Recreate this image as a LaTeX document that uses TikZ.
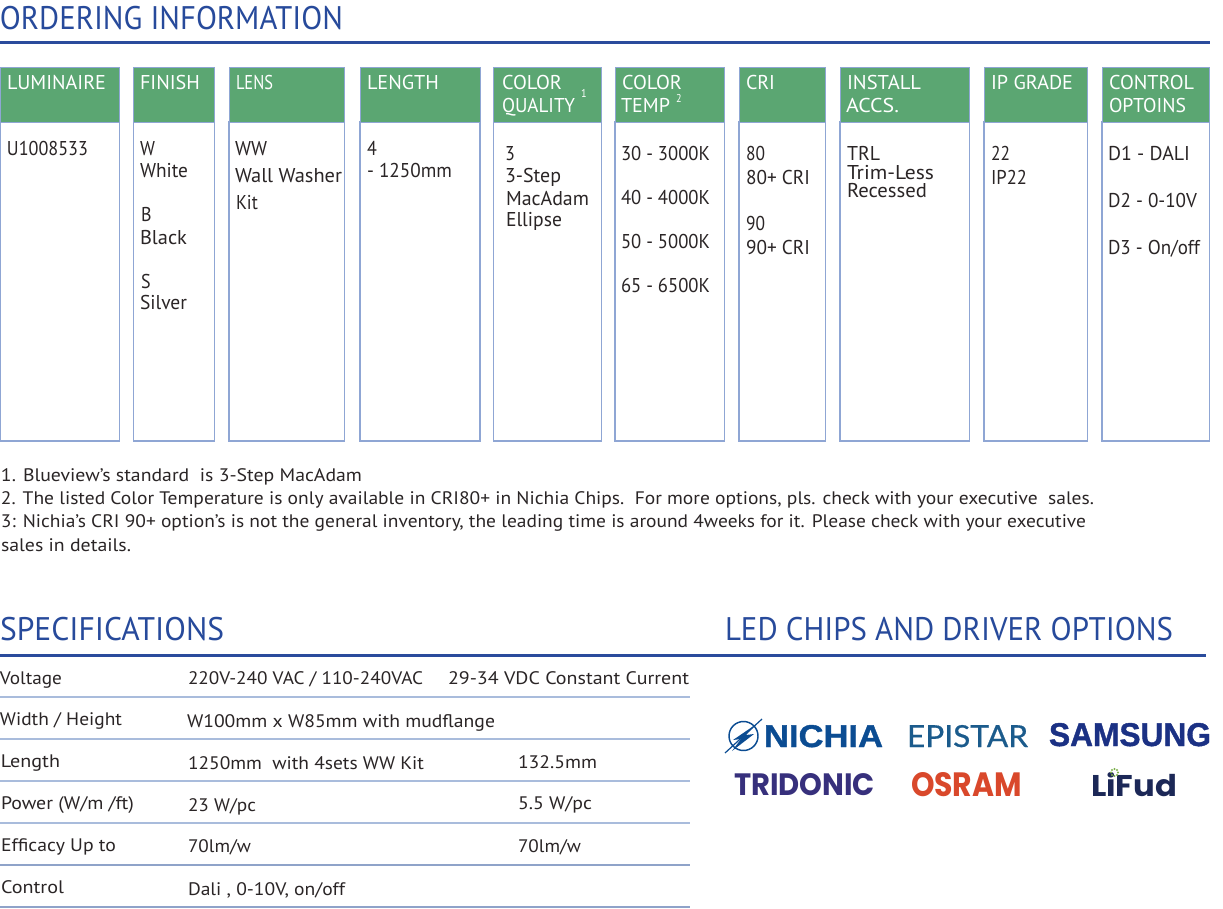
\documentclass[tikz,border=0pt]{standalone}
\usepackage{fontspec}
\usepackage{graphicx}
\setmainfont[FakeStretch=0.90]{PT Sans}
\newfontfamily\headf[FakeStretch=0.92]{PT Sans}
\newfontfamily\logob[FakeBold=1.2]{Liberation Sans}
\newfontfamily\logoc[FakeBold=0.6]{Lato}
\newfontfamily\logop{Poppins}
\definecolor{headblue}{HTML}{274A9B}
\definecolor{rulecol}{HTML}{2A4B9C}
\definecolor{greenhd}{HTML}{5BA672}
\definecolor{boxline}{HTML}{8FA6D4}
\definecolor{ink}{HTML}{2A2526}
\definecolor{rowa}{HTML}{A9BCDC}
\definecolor{rowb}{HTML}{8FA3C9}
\definecolor{nichia}{HTML}{0B4C92}
\definecolor{epistar}{HTML}{1B5B8C}
\definecolor{samsung}{HTML}{1B3184}
\definecolor{tridonic}{HTML}{37307C}
\definecolor{osram}{HTML}{D9482B}
\definecolor{lifud}{HTML}{1C2857}
\definecolor{lifudstar}{HTML}{7DB04B}
\tikzset{
  basetx/.style={anchor=base west,inner sep=0pt,outer sep=0pt,text=ink},
  tx/.style={basetx,yshift=-0.75pt,font=\fontsize{15}{18}\selectfont},
  hd/.style={tx,text=white},
  nt/.style={basetx,font=\fontsize{13.6}{16}\selectfont},
  sup/.style={basetx,text=white,font=\fontsize{8.5}{10}\selectfont},
  title/.style={basetx,text=headblue,font=\headf\fontsize{24.5}{28}\selectfont},
  logo/.style={basetx,text=#1},
  colbox/.style={draw=boxline,line width=0.9pt,fill=white},
  colhead/.style={fill=greenhd,draw=boxline,line width=0.5pt},
  rowline/.style={line width=0.9pt}
}
\newcommand{\colm}[2]{%
  \draw[colbox] (#1,122) rectangle (#2,441);
  \draw[colhead] (#1,67) rectangle (#2,122);}
\newcommand{\fit}[2]{\resizebox{#1\dimexpr0.75pt\relax}{\height}{#2}}
\newcommand{\fitb}[3]{\resizebox{#1\dimexpr0.75pt\relax}{#2\dimexpr0.75pt\relax}{#3}}
\begin{document}
\begin{tikzpicture}[x=0.75pt,y=-0.75pt]
\useasboundingbox[fill=white] (0,0) rectangle (1223,909);
% titles and rules
\node[title] (t1) at (0,30) {\fit{343}{ORDERING INFORMATION}};
\fill[rulecol] (0,41) rectangle (1210,44.5);
\node[title] (t2) at (0,640) {\fit{224}{SPECIFICATIONS}};
\node[title] (t3) at (725,640) {\fit{448}{LED CHIPS AND DRIVER OPTIONS}};
\fill[rulecol] (0,653.5) rectangle (1206,657);
% columns
\colm{0.5}{119.5}\colm{133.5}{214.5}\colm{229}{344.5}\colm{360}{480}\colm{493.5}{601.5}
\colm{615}{724.5}\colm{739}{825.5}\colm{840}{969.5}\colm{984}{1087.5}\colm{1102}{1209.5}
% headers
\node[hd] (h1) at (7,89) {\fit{99}{LUMINAIRE}};
\node[hd] (h2) at (140,89) {\fit{60}{FINISH}};
\node[hd] (h3) at (236,89) {\fit{37}{LENS}};
\node[hd] (h4) at (367,89) {\fit{72}{LENGTH}};
\node[hd] (h5a) at (502,89) {\fit{60}{COLOR}};
\node[hd] (h5b) at (502,112) {\fit{73}{QUALITY}};
\node[sup] (h5c) at (581,98) {1};
\node[hd] (h6a) at (622,89) {\fit{60}{COLOR}};
\node[hd] (h6b) at (621,112) {\fit{49}{TEMP}};
\node[sup] (h6c) at (676,103) {2};
\node[hd] (h7) at (746,89) {\fit{29}{CRI}};
\node[hd] (h8a) at (847,89) {\fit{74}{INSTALL}};
\node[hd] (h8b) at (846,112) {\fit{53}{ACCS.}};
\node[hd] (h9) at (991,89) {\fit{82}{IP GRADE}};
\node[hd] (h10a) at (1109,89) {\fit{85}{CONTROL}};
\node[hd] (h10b) at (1109,112) {\fit{77}{OPTOINS}};
% body
\node[tx] (b1) at (7,155) {\fit{81}{U1008533}};
\node[tx] (b2a) at (140,155) {W};
\node[tx] (b2b) at (140,177) {\fit{48}{White}};
\node[tx] (b2c) at (141,221) {B};
\node[tx] (b2d) at (140,243) {\fit{47}{Black}};
\node[tx] (b2e) at (141,287) {S};
\node[tx] (b2f) at (140,309) {\fit{47}{Silver}};
\node[tx] (b3a) at (235,155) {\fit{32}{WW}};
\node[tx] (b3b) at (235,182) {\fit{107}{Wall Washer}};
\node[tx] (b3c) at (236,209) {Kit};
\node[tx] (b4a) at (367,155) {4};
\node[tx] (b4b) at (367,177) {\fit{85}{- 1250mm}};
\node[tx] (b5a) at (505,160) {3};
\node[tx] (b5b) at (505,182) {\fit{56}{3-Step}};
\node[tx] (b5c) at (506,204) {\fit{83}{MacAdam}};
\node[tx] (b5d) at (506,226) {\fit{56}{Ellipse}};
\node[tx] (b6a) at (621,160) {\fit{89}{30 - 3000K}};
\node[tx] (b6b) at (621,204) {\fit{89}{40 - 4000K}};
\node[tx] (b6c) at (621,248) {\fit{89}{50 - 5000K}};
\node[tx] (b6d) at (621,291) {\fit{89}{65 - 6500K}};
\node[tx] (b7a) at (746,160) {\fit{19}{80}};
\node[tx] (b7b) at (746,184) {\fit{64}{80+ CRI}};
\node[tx] (b7c) at (746,230) {\fit{19}{90}};
\node[tx] (b7d) at (746,254) {\fit{64}{90+ CRI}};
\node[tx] (b8a) at (847,160) {\fit{33}{TRL}};
\node[tx] (b8b) at (847,179) {\fit{87}{Trim-Less}};
\node[tx] (b8c) at (847,197) {\fit{80}{Recessed}};
\node[tx] (b9a) at (991,160) {\fit{19}{22}};
\node[tx] (b9b) at (991,184) {\fit{36}{IP22}};
\node[tx] (b10a) at (1108,160) {\fit{82}{D1 - DALI}};
\node[tx] (b10b) at (1108,207) {\fit{89}{D2 - 0-10V}};
\node[tx] (b10c) at (1108,254) {\fit{92}{D3 - On/off}};
% notes
\node[nt] (n1) at (1,481) {\fit{361}{1. Blueview's standard\ \ is 3-Step MacAdam}};
\node[nt] (n2) at (1,504) {\fit{1093}{2. The listed Color Temperature is only available in CRI80+ in Nichia Chips.\ \ For more options, pls. check with your executive\ \ sales.}};
\node[nt] (n3) at (1,527) {\fit{1085}{3: Nichia's CRI 90+ option's is not the general inventory, the leading time is around 4weeks for it. Please check with your executive}};
\node[nt] (n4) at (1,551) {\fit{130}{sales in details.}};
% spec table
\draw[rowline,rowa] (0,697) -- (690,697);
\draw[rowline,rowa] (0,739) -- (690,739);
\draw[rowline,rowa] (0,781) -- (690,781);
\draw[rowline,rowa] (0,823) -- (690,823);
\draw[rowline,rowb] (0,865) -- (690,865);
\draw[rowline,rowb] (0,907) -- (690,907);
\node[nt] (s1) at (0,684) {\fit{62}{Voltage}};
\node[nt] (s1b) at (188,684) {\fit{235}{220V-240 VAC / 110-240VAC}};
\node[nt] (s1c) at (448,684) {\fit{241}{29-34 VDC Constant Current}};
\node[nt] (s2) at (0,725) {\fit{122}{Width / Height}};
\node[nt] (s2b) at (187,727) {\fit{308}{W100mm x W85mm with mudflange}};
\node[nt] (s3) at (1,767) {\fit{59}{Length}};
\node[nt] (s3b) at (188,769) {\fit{236}{1250mm\ \ with 4sets WW Kit}};
\node[nt] (s3c) at (518,768) {\fit{79}{132.5mm}};
\node[nt] (s4) at (1,809) {\fit{133}{Power (W/m /ft)}};
\node[nt] (s4b) at (188,811) {\fit{68}{23 W/pc}};
\node[nt] (s4c) at (518,809) {\fit{74}{5.5 W/pc}};
\node[nt] (s5) at (1,851) {\fit{115}{Efficacy Up to}};
\node[nt] (s5b) at (188,852) {\fit{63}{70lm/w}};
\node[nt] (s5c) at (518,852) {\fit{63}{70lm/w}};
\node[nt] (s6) at (1,893) {\fit{63}{Control}};
\node[nt] (s6b) at (188,895) {\fit{157}{Dali , 0-10V, on/off}};
% logos
\draw[nichia,line width=1.1pt] (743.5,736) circle (14.5);
\draw[nichia,line width=0.9pt] (725,753) -- (762,719);
\fill[nichia] (755,725) -- (733,740) -- (741,739) -- (732,751) -- (754,734) -- (746,735) -- cycle;
\node[logo=nichia,font=\logob\bfseries\fontsize{22.5}{24}\selectfont] (l1) at (764,747) {\fitb{119}{22}{NICHIA}};
\node[logo=epistar,font=\logoc\fontsize{22.5}{24}\selectfont] (l2) at (907,747) {\fitb{121}{22}{EPISTAR}};
\node[logo=samsung,font=\logob\bfseries\fontsize{22.5}{24}\selectfont] (l3) at (1049,746) {\fitb{162}{23}{SAMSUNG}};
\node[logo=tridonic,font=\logop\fontsize{22.5}{24}\selectfont\bfseries] (l4) at (734,795) {\fitb{141}{22}{TRIDONIC}};
\node[logo=osram,font=\logop\bfseries\fontsize{22.5}{24}\selectfont] (l5) at (911,796) {\fitb{111}{24}{OSRAM}};
\node[logo=lifud,font=\logop\bfseries\fontsize{24}{26}\selectfont] (l6) at (1091,796) {\fitb{86}{24}{LiFud}};
\foreach \a in {0,45,...,315}{\fill[lifudstar] (1114.5,772.5) ++(\a:3.5) circle (1.1);}
\end{tikzpicture}
\end{document}
